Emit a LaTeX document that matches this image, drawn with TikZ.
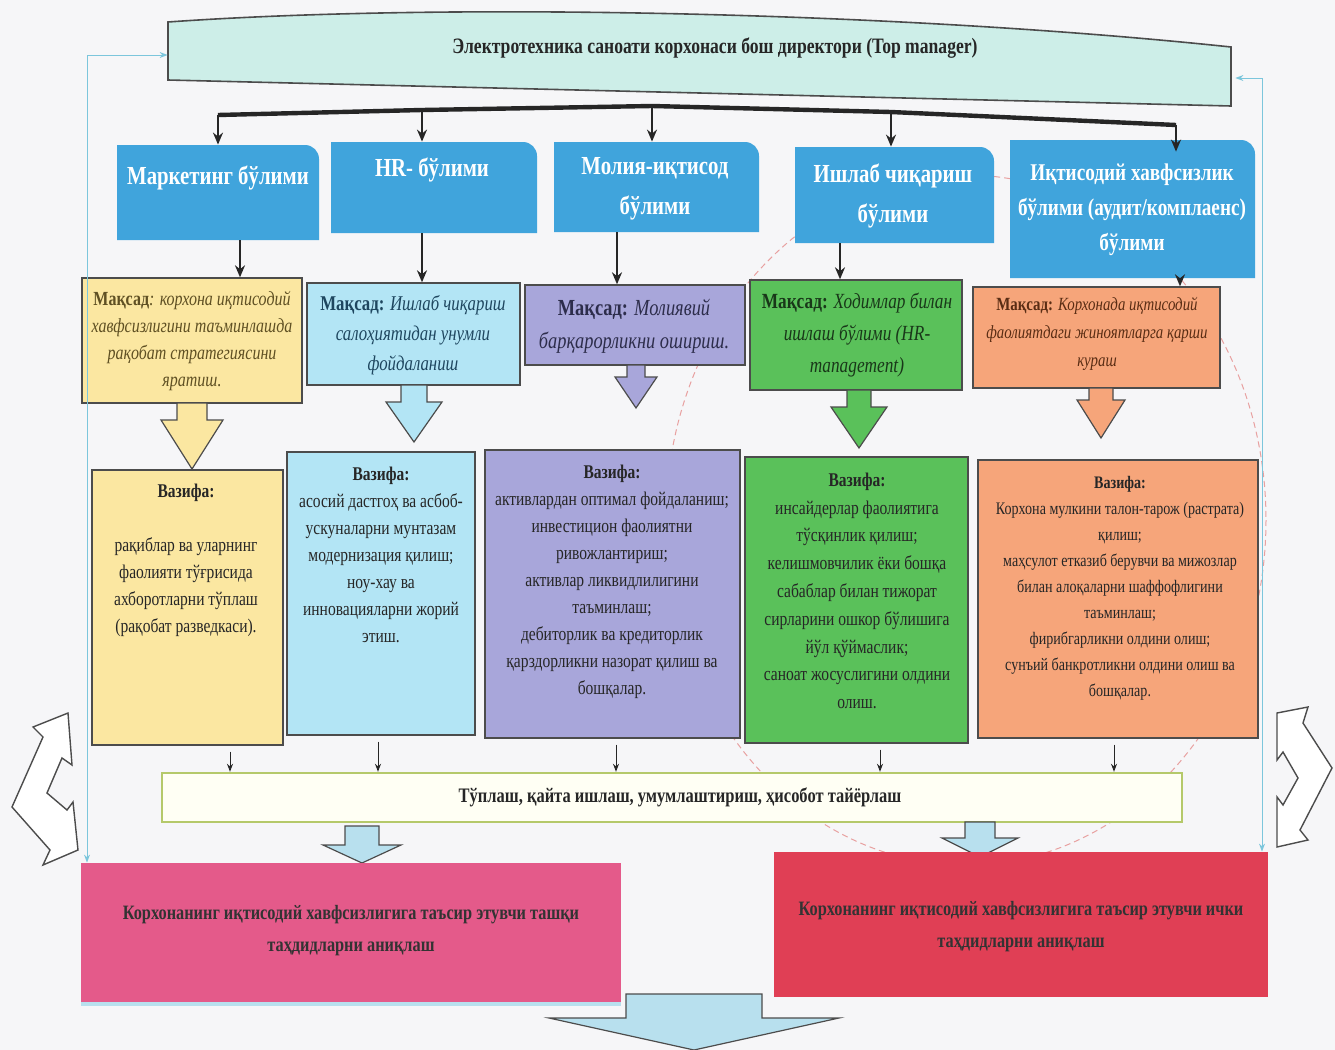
\documentclass[tikz,border=0pt]{standalone}
\usepackage{fontspec}
\setmainfont{Liberation Serif}[FakeStretch=0.8]
\usetikzlibrary{arrows.meta,fit,calc}
\definecolor{pagebg}{HTML}{F6F6F8}
\definecolor{topfill}{HTML}{CDEEE8}
\definecolor{deptblue}{HTML}{40A4DC}
\definecolor{cyel}{HTML}{FBE7A1}
\definecolor{cblu}{HTML}{B3E5F5}
\definecolor{clav}{HTML}{A8A6DA}
\definecolor{cgrn}{HTML}{5AC15A}
\definecolor{corg}{HTML}{F6A57A}
\definecolor{cpink}{HTML}{E45A8A}
\definecolor{cred}{HTML}{E03F55}
\definecolor{collfill}{HTML}{FFFFF4}
\definecolor{colldraw}{HTML}{B5C96A}
\definecolor{fbline}{HTML}{7CC6DC}
\definecolor{arrblue}{HTML}{B8E0EE}
\definecolor{circred}{HTML}{E8A0A0}
\newcommand\blockarr[8]{\filldraw[barrow,fill=#1] (#2-#6,#3) -- (#2+#6,#3) -- (#2+#6,#4) -- (#2+#7,#4) -- (#2,#5) -- (#2-#7,#4) -- (#2-#6,#4) -- cycle;}
\newcommand\deptshape[4]{\fill[deptblue] (#1,#4) -- (#1,#2) -- (#3-14,#2) arc[start angle=270,end angle=360,radius=14] -- (#3,#4) -- cycle;}
\begin{document}
\begin{tikzpicture}[x=0.5pt,y=-0.5pt,
  box/.style={draw=black!70, line width=0.7pt, inner sep=0pt},
  frame/.style={inner sep=0pt},
  depttext/.style={align=center, inner sep=0pt, text=white, font=\fontsize{13}{18}\selectfont\bfseries},
  goaltext/.style={align=center, inner sep=0pt, font=\fontsize{10}{13.5}\selectfont\itshape},
  tasktext/.style={align=center, inner sep=0pt, text=black!85, font=\fontsize{9.7}{13.5}\selectfont},
  boldtext/.style={align=center, inner sep=0pt, text=black!85, font=\fontsize{10.2}{14}\selectfont\bfseries},
  bus/.style={line width=2.2pt, black!85},
  drop/.style={line width=1pt, black!85, -{Stealth[length=6pt,width=5pt]}},
  thin/.style={line width=0.5pt, black!85, -{Stealth[length=4pt,width=3pt]}},
  fb/.style={line width=0.5pt, fbline, {Stealth[length=4pt,width=3pt]}-{Stealth[length=4pt,width=3pt]}},
  barrow/.style={line width=0.6pt, draw=black!70},
  updown/.style={line width=0.7pt, draw=black!70, fill=white}
]
\useasboundingbox (0,0) rectangle (1335,1050);
\fill[pagebg] (0,0) rectangle (1335,1050);

% faint dotted ellipse seen behind the right part
\draw[circred, line width=0.5pt, densely dashed] (966,520) ellipse [x radius=300, y radius=345];

% ---------- top box ----------
\filldraw[fill=topfill, draw=black!70, line width=0.8pt] (168,22) .. controls (450,2) and (900,12) .. (1231,47) -- (1231,106) -- (168,80) -- cycle;
\node[frame, fit={(168,20) (1231,106)}] (top) {};
\node[boldtext, font=\fontsize{11}{14}\selectfont\bfseries] (toptext) at (715,48) {Электротехника саноати корхонаси бош директори (Top manager)};

% ---------- departments ----------
\deptshape{117}{145}{319}{240}
\node[frame, fit={(117,145) (319,240)}] (d1) {};
\deptshape{331}{142}{537}{233}
\node[frame, fit={(331,142) (537,233)}] (d2) {};
\deptshape{554}{142}{759}{232}
\node[frame, fit={(554,142) (759,232)}] (d3) {};
\deptshape{795}{147}{994}{243}
\node[frame, fit={(795,147) (994,243)}] (d4) {};
\deptshape{1010}{140}{1255}{278}
\node[frame, fit={(1010,140) (1255,278)}] (d5) {};

\node[depttext] (d1t) at (218,178) {Маркетинг бўлими};
\node[depttext] (d2t) at (432,170) {HR- бўлими};
\node[depttext] (d3t) at (655,189) {Молия-иқтисод\\[2pt]бўлими};
\node[depttext] (d4t) at (893,196) {Ишлаб чиқариш\\[2pt]бўлими};
\node[depttext, font=\fontsize{12}{17.5}\selectfont\bfseries] (d5t) at (1132,210) {Иқтисодий хавфсизлик\\бўлими (аудит/комплаенс)\\бўлими};

% bus
\coordinate (b1) at (218,115);
\coordinate (b2) at (422,110);
\coordinate (b3) at (652,106);
\coordinate (b4) at (891,112);
\coordinate (b5) at (1176,125);
\draw[bus, line join=round] (b1) -- (b2) -- (b3) -- (b4) -- (b5);
\draw[drop] (b1) -- (d1.north -| b1);
\draw[drop] (b2) -- (d2.north -| b2);
\draw[drop] (b3) -- (d3.north -| b3);
\draw[drop] (b4) -- (d4.north -| b4);
\draw[drop] (b5) -- ([yshift=-6pt]d5.north -| b5);

% ---------- goal boxes ----------
\node[box, fill=cyel, fit={(82,278) (302,403)}] (g1) {};
\node[box, fill=cblu, fit={(307,283) (520,385)}] (g2) {};
\node[box, fill=clav, fit={(525,285) (745,365)}] (g3) {};
\node[box, fill=cgrn, fit={(750,280) (962,390)}] (g4) {};
\node[box, fill=corg, fit={(973,287) (1220,388)}] (g5) {};

\node[goaltext, text={rgb,255:red,95;green,80;blue,35}] (g1t) at (192,341) {{\upshape\bfseries Мақсад}: корхона иқтисодий\\хавфсизлигини таъминлашда\\рақобат стратегиясини\\яратиш.};
\node[goaltext, text={rgb,255:red,30;green,70;blue,95}, font=\fontsize{10.5}{15}\selectfont\itshape] (g2t) at (413,335) {{\upshape\bfseries Мақсад:} Ишлаб чиқариш\\салоҳиятидан унумли\\фойдаланиш};
\node[goaltext, text={rgb,255:red,45;green,45;blue,75}, font=\fontsize{11.5}{16.5}\selectfont\itshape] (g3t) at (634,326) {{\upshape\bfseries Мақсад:} Молиявий\\барқарорликни ошириш.};
\node[goaltext, text={rgb,255:red,25;green,55;blue,25}, font=\fontsize{10.8}{16}\selectfont\itshape] (g4t) at (857,335) {{\upshape\bfseries Мақсад:} Ходимлар билан\\ишлаш бўлими (HR-\\management)};
\node[goaltext, text={rgb,255:red,90;green,45;blue,20}, font=\fontsize{9.3}{14}\selectfont\itshape] (g5t) at (1097,334) {{\upshape\bfseries Мақсад:} Корхонада иқтисодий\\фаолиятдаги жиноятларга қарши\\кураш};

% dept -> goal
\coordinate (c1) at (240,0);
\coordinate (c2) at (422,0);
\coordinate (c3) at (617,0);
\coordinate (c4) at (840,0);
\coordinate (c5) at (1180,0);
\draw[drop] (d1.south -| c1) -- (g1.north -| c1);
\draw[drop] (d2.south -| c2) -- (g2.north -| c2);
\draw[drop] (d3.south -| c3) -- (g3.north -| c3);
\draw[drop] (d4.south -| c4) -- (g4.north -| c4);
\draw[drop] (d5.south -| c5) -- (g5.north -| c5);

% block arrows goal -> task
\blockarr{cyel}{192}{403}{420}{469}{15}{31}{}
\blockarr{cblu}{414}{385}{402}{442}{13}{28}{}
\blockarr{clav}{636}{365}{377}{408}{9}{21}{}
\blockarr{cgrn}{859}{390}{407}{448}{12}{28}{}
\blockarr{corg}{1101}{388}{400}{438}{12}{24}{}

% ---------- task boxes ----------
\node[box, fill=cyel, fit={(92,470) (283,745)}] (t1) {};
\node[box, fill=cblu, fit={(287,452) (475,735)}] (t2) {};
\node[box, fill=clav, fit={(485,450) (740,738)}] (t3) {};
\node[box, fill=cgrn, fit={(745,457) (968,743)}] (t4) {};
\node[box, fill=corg, fit={(978,460) (1258,738)}] (t5) {};

\node[tasktext] (t1t) at (186,560) {\textbf{Вазифа:}\\\mbox{}\\рақиблар ва уларнинг\\фаолияти тўғрисида\\ахборотларни тўплаш\\(рақобат разведкаси).};
\node[tasktext] (t2t) at (381,555) {\textbf{Вазифа:}\\асосий дастгоҳ ва асбоб-\\ускуналарни мунтазам\\модернизация қилиш;\\ноу-хау ва\\инновацияларни жорий\\этиш.};
\node[tasktext] (t3t) at (612,582) {\textbf{Вазифа:}\\активлардан оптимал фойдаланиш;\\инвестицион фаолиятни\\ривожлантириш;\\активлар ликвидлилигини\\таъминлаш;\\дебиторлик ва кредиторлик\\қарздорликни назорат қилиш ва\\бошқалар.};
\node[tasktext, font=\fontsize{9.7}{13.9}\selectfont] (t4t) at (857,591) {\textbf{Вазифа:}\\инсайдерлар фаолиятига\\тўсқинлик қилиш;\\келишмовчилик ёки бошқа\\сабаблар билан тижорат\\сирларини ошкор бўлишига\\йўл қўймаслик;\\саноат жосуслигини олдини\\олиш.};
\node[tasktext, font=\fontsize{8.8}{13}\selectfont] (t5t) at (1120,588) {\textbf{Вазифа:}\\Корхона мулкини талон-тарож (растрата)\\қилиш;\\маҳсулот етказиб берувчи ва мижозлар\\билан алоқаларни шаффофлигини\\таъминлаш;\\фирибгарликни олдини олиш;\\сунъий банкротликни олдини олиш ва\\бошқалар.};

% ---------- collect box ----------
\node[fit={(162,773) (1182,822)}, inner sep=0pt, draw=colldraw, line width=1.2pt, fill=collfill] (coll) {};
\node[boldtext, font=\fontsize{10.3}{14}\selectfont\bfseries] (collt) at (680,797) {Тўплаш, қайта ишлаш, умумлаштириш, ҳисобот тайёрлаш};

\coordinate (e1) at (230,0);
\coordinate (e2) at (378,0);
\coordinate (e3) at (616,0);
\coordinate (e4) at (880,0);
\coordinate (e5) at (1114,0);
\draw[thin] ([yshift=-3pt]t1.south -| e1) -- (coll.north -| e1);
\draw[thin] ([yshift=-3pt]t2.south -| e2) -- (coll.north -| e2);
\draw[thin] ([yshift=-3pt]t3.south -| e3) -- (coll.north -| e3);
\draw[thin] ([yshift=-3pt]t4.south -| e4) -- (coll.north -| e4);
\draw[thin] ([yshift=-3pt]t5.south -| e5) -- (coll.north -| e5);

% block arrows to bottom boxes
\blockarr{arrblue}{362}{826}{845}{863}{17}{39}{}
\blockarr{arrblue}{980}{822}{838}{857}{15}{38}{}

% ---------- bottom boxes ----------
\node[fit={(81,863) (621,1002)}, inner sep=0pt, fill=cpink] (bl) {};
\fill[arrblue] (81,1002) rectangle (621,1006);
\node[fit={(774,852) (1268,997)}, inner sep=0pt, fill=cred] (br) {};
\node[boldtext, text=black!80] (blt) at (351,931) {Корхонанинг иқтисодий хавфсизлигига таъсир этувчи ташқи\\[2pt]таҳдидларни аниқлаш};
\node[boldtext, text=black!80] (brt) at (1021,927) {Корхонанинг иқтисодий хавфсизлигига таъсир этувчи ички\\[2pt]таҳдидларни аниқлаш};

% bottom big arrow
\blockarr{arrblue}{694}{994}{1018}{1050}{68}{145}{}

% feedback lines
\coordinate (fL) at (87,55);
\coordinate (fR) at (1262,78);
\draw[fb] (bl.north -| fL) -- (fL) -- (top.west |- fL);
\draw[fb] (br.north -| fR) -- (fR) -- ([xshift=2pt]top.east |- fR);

% up-down outline arrows
\filldraw[updown] (68,713) -- (33,727) -- (43,737) -- (12,807) -- (50,850) -- (43,865) -- (78,850) -- (73,802) -- (67,810) -- (47,793) -- (62,758) -- (72,765) -- cycle;
\filldraw[updown] (1277,713) -- (1308,707) -- (1303,723) -- (1332,768) -- (1300,830) -- (1308,840) -- (1277,847) -- (1277,797) -- (1283,805) -- (1298,778) -- (1283,752) -- (1277,760) -- cycle;
\end{tikzpicture}
\end{document}
